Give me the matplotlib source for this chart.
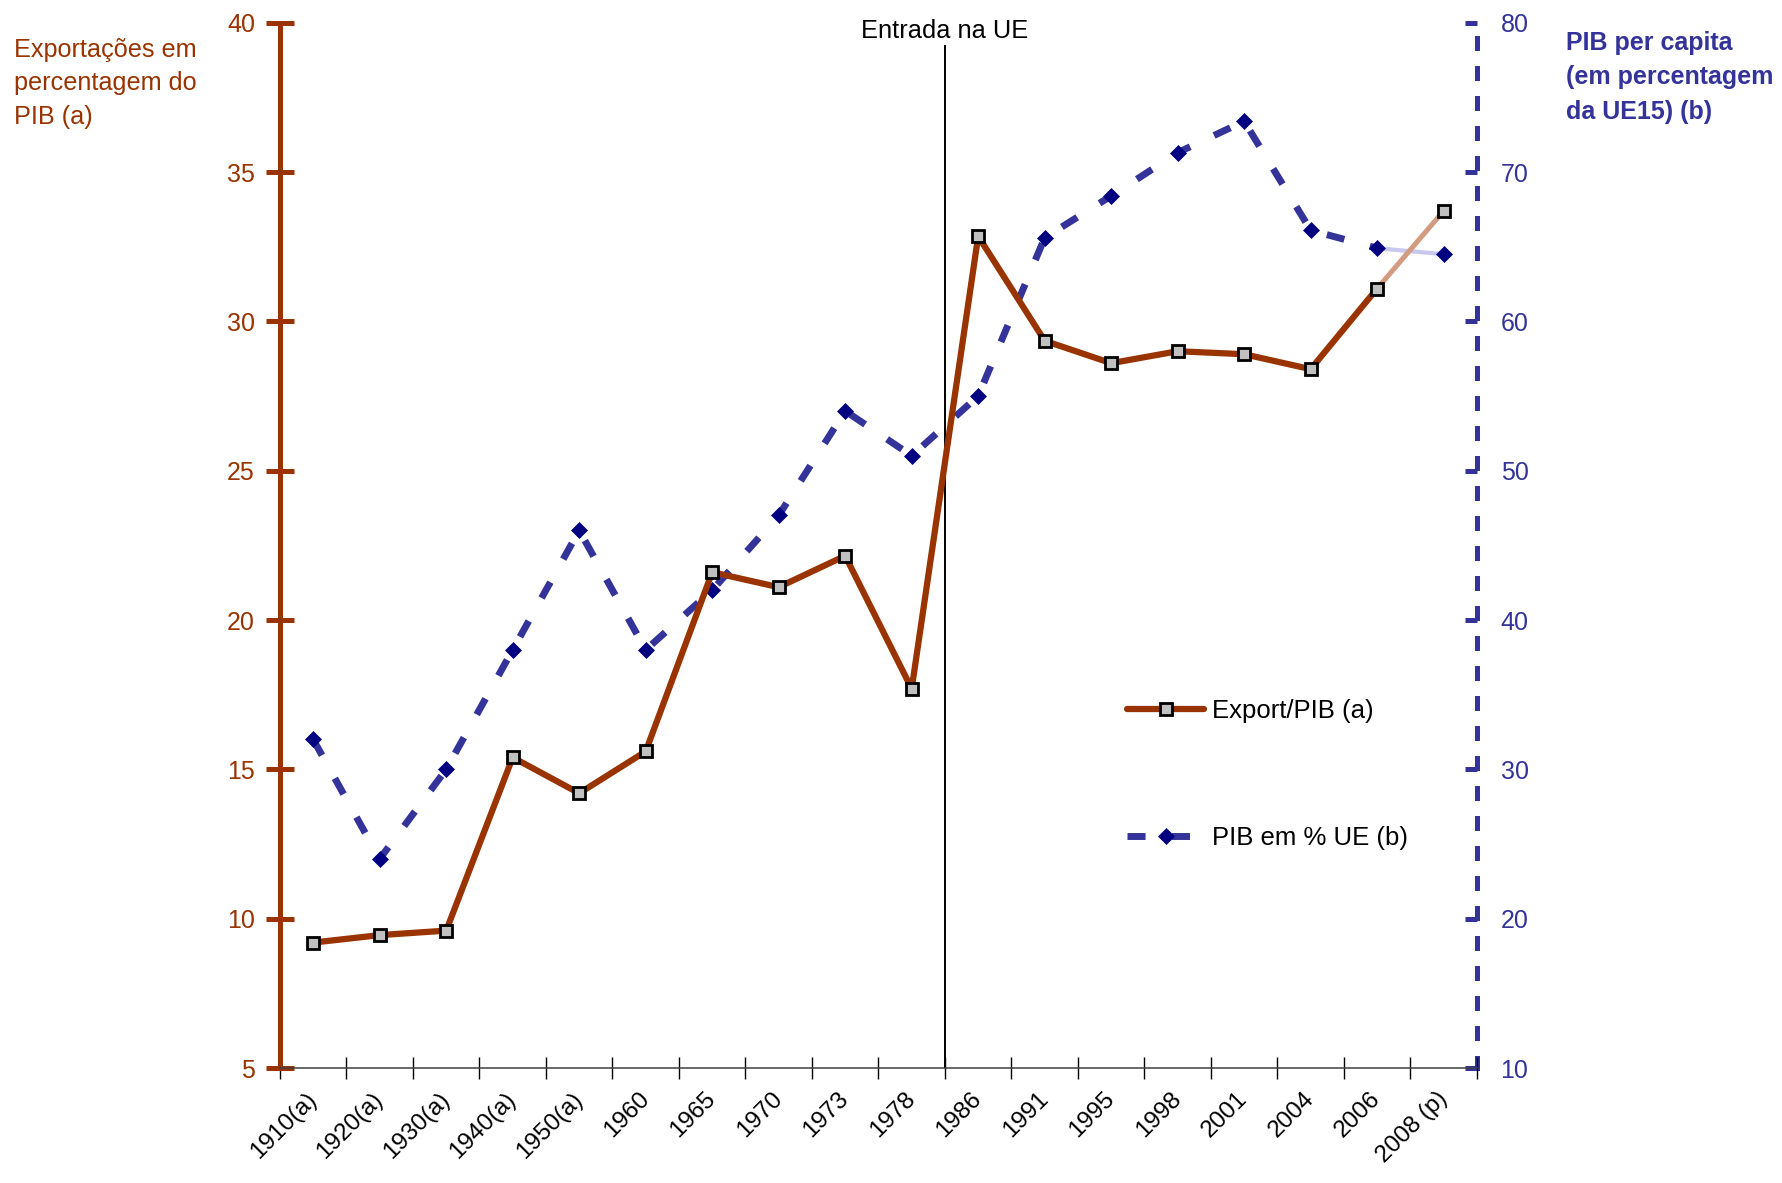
import numpy as np
import matplotlib
matplotlib.use("Agg")
import matplotlib.pyplot as plt

plt.rcParams['font.family'] = ['Liberation Sans', 'DejaVu Sans']

# Exportações / PIB e PIB per capita em % da UE15
anos = ['1910(a)', '1920(a)', '1930(a)', '1940(a)', '1950(a)', '1960', '1965',
        '1970', '1973', '1978', '1986', '1991', '1995', '1998', '2001', '2004',
        '2006', '2008 (p)']
export_pib = [9.2, 9.45, 9.6, 15.4, 14.2, 15.6, 21.6, 21.1, 22.15, 17.7,
              32.85, 29.35, 28.6, 29.0, 28.9, 28.4, 31.1, 33.7]
pib_ue = [32, 24, 30, 38, 46, 38, 42, 47, 54, 51,
          55, 65.6, 68.4, 71.3, 73.4, 66.1, 64.9, 64.5]

left_ticks = list(range(5, 41, 5))
right_ticks = list(range(10, 81, 10))

BROWN = '#993300'
BLUE = '#333399'
NAVY = '#000080'
GREY_MARKER = '#c0c0c0'


def main() -> None:
    fig = plt.figure(figsize=(17.82, 11.83), dpi=100)
    ax1 = fig.add_axes([0.1571, 0.0972, 0.6717, 0.8836])
    ax2 = ax1.twinx()
    # exports drawn over the GDP series
    ax1.set_zorder(ax2.get_zorder() + 1)
    ax1.patch.set_visible(False)

    x = np.arange(len(anos))
    exp = np.array(export_pib)
    pib = np.array(pib_ue)

    # left axis: exports
    ax1.set_xlim(-0.5, len(anos) - 0.5)
    ax1.set_ylim(left_ticks[0], left_ticks[-1])
    ax1.set_yticks(left_ticks)
    for side in ('top', 'right'):
        ax1.spines[side].set_visible(False)
    ax1.spines['left'].set_color(BROWN)
    ax1.spines['left'].set_linewidth(3.6)
    ax1.spines['bottom'].set_color('#404040')
    ax1.spines['bottom'].set_linewidth(1.1)
    ax1.tick_params(axis='y', direction='inout', length=20, width=3.6,
                    color=BROWN, labelcolor=BROWN, labelsize=18, pad=8)

    # category boundaries get the ticks, centres get the labels
    ax1.set_xticks(np.arange(-0.5, len(anos)), labels=[])
    ax1.set_xticks(x, labels=anos, minor=True)
    ax1.tick_params(axis='x', which='major', direction='inout', length=16,
                    width=1, color='black')
    ax1.tick_params(axis='x', which='minor', length=0, pad=20, labelsize=17.5)
    for lbl in ax1.get_xticklabels(minor=True):
        lbl.set_rotation(45)
        lbl.set_ha('right')
        lbl.set_va('center')
        lbl.set_rotation_mode('anchor')

    # right axis: GDP per capita
    ax2.set_ylim(right_ticks[0], right_ticks[-1])
    ax2.set_yticks(right_ticks)
    for side in ('top', 'left', 'bottom'):
        ax2.spines[side].set_visible(False)
    ax2.spines['right'].set_color(BLUE)
    ax2.spines['right'].set_linewidth(3.6)
    ax2.spines['right'].set_linestyle((0, (2.0, 4.0)))
    ax2.tick_params(axis='y', direction='in', length=9, width=3.6,
                    color=BLUE, labelcolor=BLUE, labelsize=18, pad=17)

    # EU entry
    entrada = anos.index('1986') - 0.5
    ax1.vlines(entrada, left_ticks[0], 39.25, color='black', lw=1.4, zorder=1)
    ax1.text(entrada, 39.72, 'Entrada na UE', ha='center', va='center',
             fontsize=18.3, clip_on=False)

    # export series, last (provisional) segment lighter
    h1, = ax1.plot(x[:-1], exp[:-1], color=BROWN, lw=4.5, solid_capstyle='round',
                   marker='s', ms=9, mfc=GREY_MARKER, mec='black', mew=2,
                   label='Export/PIB (a)', zorder=3)
    ax1.plot(x[-2:], exp[-2:], color='#d39b80', lw=3.6, zorder=2)
    ax1.plot(x[-1:], exp[-1:], ls='none', marker='s', ms=9, mfc=GREY_MARKER,
             mec='black', mew=2, zorder=4)

    # GDP series
    h2, = ax2.plot(x[:-1], pib[:-1], color=BLUE, lw=5, ls=(0, (2.6, 3.8)),
                   marker='D', ms=8.3, mfc=NAVY, mec=NAVY, mew=0.5,
                   label='PIB em % UE (b)', zorder=3)
    ax2.plot(x[-2:], pib[-2:], color='#c8c8ee', lw=3, zorder=2)
    ax2.plot(x[-1:], pib[-1:], ls='none', marker='D', ms=8.3, mfc=NAVY,
             mec=NAVY, mew=0.5, zorder=4)

    ax2.legend([h1, h2], [h1.get_label(), h2.get_label()], loc='center left',
               bbox_to_anchor=(0.708, 0.2805), frameon=False, fontsize=18.5,
               handlelength=3.0, handletextpad=0.3, labelspacing=4.0,
               borderpad=0, borderaxespad=0, numpoints=1)

    fig.text(0.0079, 0.968, 'Exportações em\npercentagem do\nPIB (a)',
             color=BROWN, fontsize=18.2, va='top', ha='left', linespacing=1.5)
    fig.text(0.879, 0.974, 'PIB per capita\n(em percentagem\nda UE15) (b)',
             color=BLUE, fontsize=18, fontweight='bold', va='top', ha='left',
             linespacing=1.55)

    fig.savefig('out.png', dpi=100)


if __name__ == "__main__":
    main()
